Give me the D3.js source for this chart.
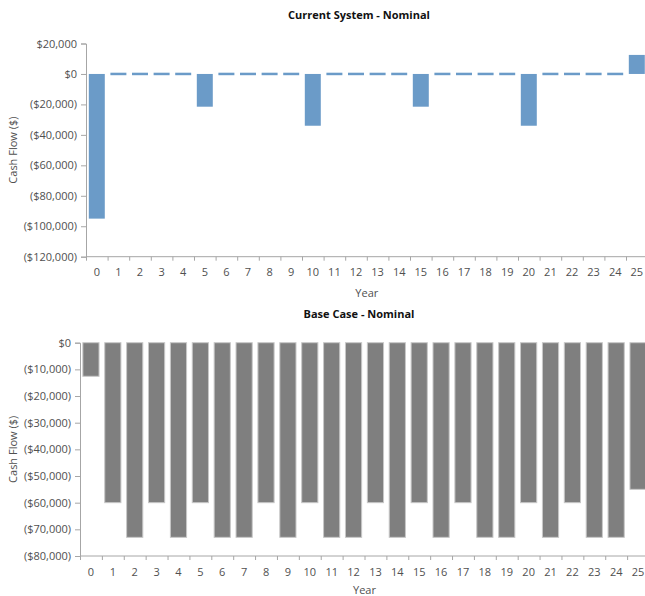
<!DOCTYPE html>
<html>
<head>
<meta charset="utf-8">
<script src="https://cdn.jsdelivr.net/npm/d3@7"></script>
<style>
  body { margin: 0; background: #fff; }
  svg text { font-family: "Segoe UI", "Open Sans", "Noto Sans", sans-serif; }
</style>
</head>
<body>
<svg id="chart" width="645" height="596"></svg>
<script>
// Project years shown on both charts
const years = d3.range(0, 26);

// Current system nominal cash flow by year ($)
const currentSystem = [-95000, 0, 0, 0, 0, -21500, 0, 0, 0, 0, -34000, 0, 0, 0, 0,
  -21500, 0, 0, 0, 0, -34000, 0, 0, 0, 0, 12500];

// Base case nominal cash flow by year ($)
const baseCase = [-12600, -60000, -73000, -60000, -73000, -60000, -73000, -73000, -60000,
  -73000, -60000, -73000, -73000, -60000, -73000, -60000, -73000, -60000, -73000, -73000,
  -60000, -73000, -60000, -73000, -73000, -55000];

// Y-axis tick values for each panel
const currentTicks = [20000, 0, -20000, -40000, -60000, -80000, -100000, -120000];
const baseTicks = [0, -10000, -20000, -30000, -40000, -50000, -60000, -70000, -80000];

const svg = d3.select("#chart");

const money = v => v < 0 ? "($" + d3.format(",")(-v) + ")" : "$" + d3.format(",")(v);

const axisColor = "#a6a6a6";
const textColor = "#505050";

function panel(cfg) {
  const g = svg.append("g");
  const x = d3.scaleBand()
    .domain(years)
    .range([cfg.left, cfg.right])
    .paddingInner(0.26)
    .paddingOuter(0.13);
  const y = d3.scaleLinear()
    .domain(cfg.domain)
    .range([cfg.bottom, cfg.top]);

  // title
  g.append("text")
    .attr("x", cfg.titleX)
    .attr("y", cfg.titleY)
    .attr("text-anchor", "middle")
    .attr("font-size", 11)
    .attr("font-weight", "bold")
    .attr("fill", "#111")
    .text(cfg.title);

  // bars (zero values drawn as a thin flat segment on the baseline)
  g.selectAll("rect.bar")
    .data(years)
    .join("rect")
    .attr("class", "bar")
    .attr("x", d => x(d))
    .attr("width", x.bandwidth())
    .attr("y", d => {
      const v = cfg.values[d];
      return v === 0 ? y(0) - 1.25 : Math.min(y(v), y(0));
    })
    .attr("height", d => {
      const v = cfg.values[d];
      return v === 0 ? 2.5 : Math.abs(y(v) - y(0));
    })
    .attr("fill", cfg.color)
    .attr("stroke", cfg.values.some(v => v === 0) ? "none" : cfg.stroke)
    .attr("stroke-width", 1);

  // y axis
  const yAxis = d3.axisLeft(y)
    .tickValues(cfg.ticks)
    .tickFormat(money)
    .tickSize(5)
    .tickPadding(4);
  const ya = g.append("g")
    .attr("transform", `translate(${cfg.left},0)`)
    .call(yAxis);
  ya.select(".domain").attr("stroke", axisColor);
  ya.selectAll(".tick line").attr("stroke", axisColor);
  ya.selectAll(".tick text")
    .attr("fill", textColor)
    .attr("font-size", 11)
    .attr("font-family", null);

  // x axis: labels centered on bands, tick marks on band boundaries
  const xAxis = d3.axisBottom(x).tickSize(0).tickPadding(12);
  const xa = g.append("g")
    .attr("transform", `translate(0,${cfg.bottom})`)
    .call(xAxis);
  xa.select(".domain").remove();
  xa.selectAll(".tick text")
    .attr("fill", textColor)
    .attr("font-size", 11)
    .attr("font-family", null);
  xa.append("line")
    .attr("x1", cfg.left)
    .attr("x2", cfg.right)
    .attr("stroke", axisColor);
  xa.selectAll("line.bound")
    .data(d3.range(0, years.length + 1))
    .join("line")
    .attr("class", "bound")
    .attr("x1", i => x.range()[0] + i * x.step() + 0.5)
    .attr("x2", i => x.range()[0] + i * x.step() + 0.5)
    .attr("y1", 0)
    .attr("y2", 4)
    .attr("stroke", axisColor);

  // axis titles
  g.append("text")
    .attr("x", (cfg.left + cfg.right) / 2)
    .attr("y", cfg.bottom + cfg.yearOffset)
    .attr("text-anchor", "middle")
    .attr("font-size", 11)
    .attr("fill", textColor)
    .text("Year");
  g.append("text")
    .attr("transform", `translate(${cfg.yTitleX},${(cfg.top + cfg.bottom) / 2}) rotate(-90)`)
    .attr("text-anchor", "middle")
    .attr("font-size", 11)
    .attr("fill", textColor)
    .text("Cash Flow ($)");
}

panel({
  title: "Current System - Nominal",
  titleX: 359, titleY: 19,
  values: currentSystem,
  ticks: currentTicks,
  domain: [-120000, 20000],
  left: 86, right: 647.6, top: 43.5, bottom: 256.7,
  color: "#6b9bc8", stroke: "#8fb3d6",
  yTitleX: 17, yearOffset: 40
});

panel({
  title: "Base Case - Nominal",
  titleX: 359, titleY: 318,
  values: baseCase,
  ticks: baseTicks,
  domain: [-80000, 0],
  left: 80, right: 649, top: 342.7, bottom: 556,
  color: "#7f7f7f", stroke: "#c8c8c8",
  yTitleX: 17, yearOffset: 37.5
});
</script>
</body>
</html>
